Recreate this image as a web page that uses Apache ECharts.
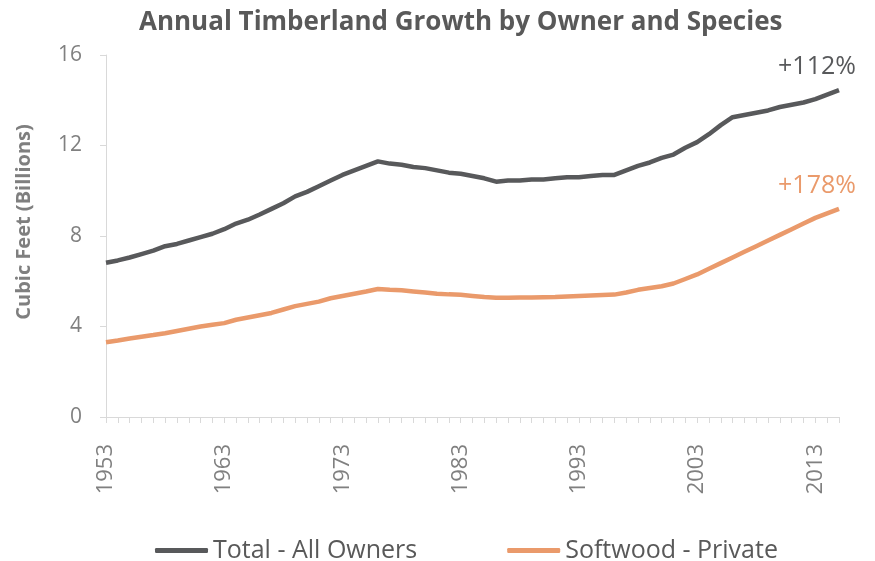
<!DOCTYPE html>
<html>
<head>
<meta charset="utf-8">
<script src="https://cdn.jsdelivr.net/npm/echarts@6/dist/echarts.min.js"></script>
<style>
  html, body { margin: 0; padding: 0; background: #fff; }
  #chart { width: 875px; height: 561px; }
</style>
</head>
<body>
<div id="chart"></div>
<script>
const years = []
for (let y = 1953; y <= 2015; y++) years.push(String(y))

const totalAll = [
  6.82, 6.92, 7.05, 7.2, 7.35, 7.55, 7.65, 7.8, 7.95, 8.1,
  8.3, 8.55, 8.72, 8.95, 9.2, 9.45, 9.75, 9.95, 10.2, 10.45,
  10.7, 10.9, 11.1, 11.3, 11.2, 11.15, 11.05, 11.0, 10.9, 10.8,
  10.75, 10.65, 10.55, 10.4, 10.45, 10.45, 10.5, 10.5, 10.55, 10.6,
  10.6, 10.65, 10.7, 10.7, 10.9, 11.1, 11.25, 11.45, 11.6, 11.9,
  12.15, 12.5, 12.9, 13.25, 13.35, 13.45, 13.55, 13.7, 13.8, 13.9,
  14.05, 14.25, 14.45
]

const softwoodPrivate = [
  3.3, 3.38, 3.47, 3.55, 3.62, 3.7, 3.8, 3.9, 4.0, 4.08,
  4.15, 4.3, 4.4, 4.5, 4.6, 4.75, 4.9, 5.0, 5.1, 5.25,
  5.35, 5.45, 5.55, 5.66, 5.62, 5.6, 5.55, 5.5, 5.45, 5.42,
  5.4, 5.35, 5.3, 5.27, 5.27, 5.28, 5.28, 5.29, 5.3, 5.33,
  5.35, 5.37, 5.39, 5.41, 5.5, 5.62, 5.7, 5.78, 5.9, 6.1,
  6.3, 6.55, 6.8, 7.05, 7.3, 7.55, 7.8, 8.05, 8.3, 8.55,
  8.8, 9.0, 9.2
]

const seriesNames = ['Total - All Owners', 'Softwood - Private']
const endLabels = ['+112%', '+178%']
const colors = ['#58595b', '#ea9a6b']

const font = '"Open Sans", "Noto Sans", sans-serif'
const chart = echarts.init(document.getElementById('chart'))

const option = {
  animation: false,
  textStyle: { fontFamily: font },
  title: {
    text: 'Annual Timberland Growth by Owner and Species',
    left: 134,
    top: 5,
    textStyle: { fontSize: 26, fontWeight: 'bold', color: '#595959', fontFamily: font }
  },
  legend: {
    top: 533,
    left: 150,
    itemWidth: 53,
    itemHeight: 5,
    itemGap: 90,
    icon: 'roundRect',
    textStyle: { fontSize: 25, color: '#595959' },
    data: seriesNames
  },
  grid: { left: 106, right: 36, top: 55, bottom: 144 },
  xAxis: {
    type: 'category',
    data: years,
    boundaryGap: false,
    axisLine: { lineStyle: { color: '#d9d9d9', width: 1 } },
    axisTick: { show: true, interval: 0, length: 6, lineStyle: { color: '#d9d9d9' } },
    axisLabel: { interval: 9, rotate: 90, color: '#808080', fontSize: 22, margin: 27 }
  },
  yAxis: {
    type: 'value',
    min: 0,
    max: 16,
    interval: 4,
    name: 'Cubic Feet (Billions)',
    nameLocation: 'middle',
    nameGap: 72,
    nameTextStyle: { fontSize: 20, fontWeight: 'bold', color: '#7f7f7f', padding: [0, 0, 0, 28] },
    axisLine: { show: true, lineStyle: { color: '#d9d9d9' } },
    axisTick: { show: true, length: 6, lineStyle: { color: '#d9d9d9' } },
    splitLine: { show: false },
    axisLabel: { color: '#808080', fontSize: 21, margin: 24 }
  },
  series: [totalAll, softwoodPrivate].map((vals, i) => ({
    name: seriesNames[i],
    type: 'line',
    data: vals,
    symbol: 'none',
    lineStyle: { width: 4.5, color: colors[i] },
    itemStyle: { color: colors[i] },
    endLabel: {
      show: true,
      formatter: endLabels[i],
      color: colors[i],
      fontSize: 25,
      align: 'center',
      offset: [-30, -23]
    }
  }))
}

chart.setOption(option)
</script>
</body>
</html>
